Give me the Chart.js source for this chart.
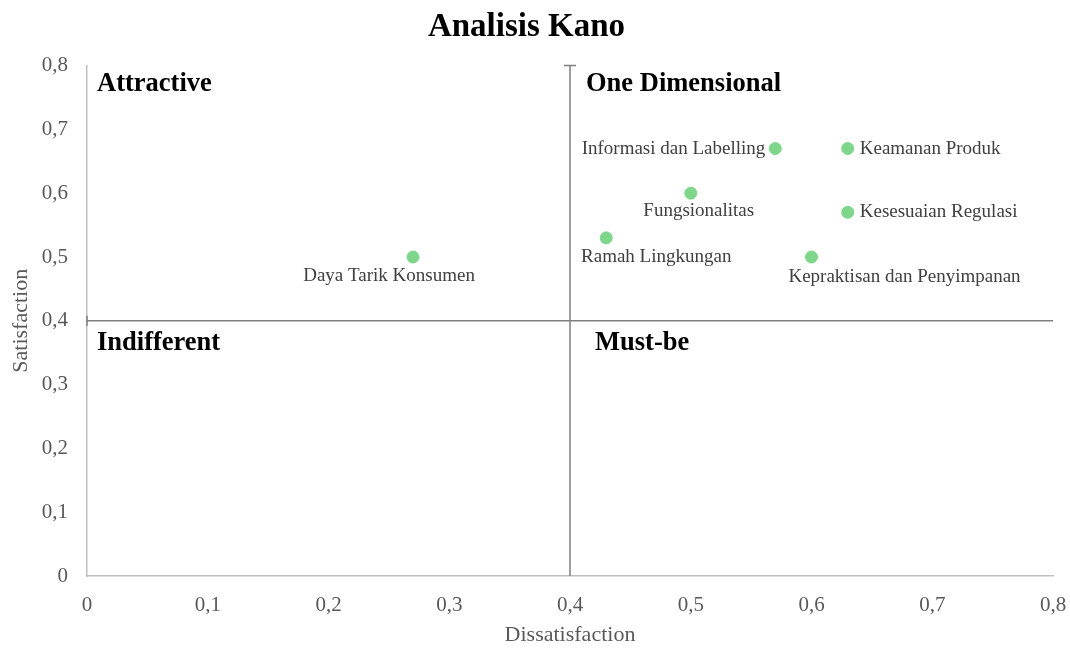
<!DOCTYPE html>
<html>
<head>
<meta charset="utf-8">
<script src="https://cdn.jsdelivr.net/npm/chart.js@4"></script>
<style>
    html, body { margin: 0; padding: 0; background: #ffffff; }
    #wrap { width: 1070px; height: 648px; }
</style>
</head>
<body>
<div id="wrap"><canvas id="kanoChart" width="1070" height="648"></canvas></div>
<script>
// atribut dan nilai koefisien kepuasan / ketidakpuasan
const atribut = [
    'Daya Tarik Konsumen',
    'Informasi dan Labelling',
    'Keamanan Produk',
    'Fungsionalitas',
    'Kesesuaian Regulasi',
    'Ramah Lingkungan',
    'Kepraktisan dan Penyimpanan'
];
const dissatisfaction = [0.27, 0.57, 0.63, 0.50, 0.63, 0.43, 0.60];
const satisfaction = [0.50, 0.67, 0.67, 0.60, 0.57, 0.53, 0.50];

const axisTicks = [0, 0.1, 0.2, 0.3, 0.4, 0.5, 0.6, 0.7, 0.8];
const batasKuadran = 0.4;
const kuadran = ['Attractive', 'One Dimensional', 'Indifferent', 'Must-be'];

// letak label titik: [align, dx, dy] dalam piksel dari titik
const labelPos = [
    ['center', -24, 19],
    ['right', -10, 0],
    ['left', 12, 0],
    ['center', 8, 18],
    ['left', 12, 0],
    ['center', 50, 19],
    ['center', 93, 20]
];

const fmt = v => String(Math.round(v * 10) / 10).replace('.', ',');
const serif = '"Liberation Serif", "Times New Roman", serif';
const garisKuadran = '#7f7f7f';

const labelPlugin = {
    id: 'kanoLabels',
    afterDatasetsDraw(chart) {
        const ctx = chart.ctx;
        const xs = chart.scales.x;
        const ys = chart.scales.y;
        const x0 = xs.getPixelForValue(0);
        const xm = xs.getPixelForValue(batasKuadran);
        const yTop = ys.getPixelForValue(0.8);
        const ym = ys.getPixelForValue(batasKuadran);
        ctx.save();

        // ujung garis (seperti error bar excel)
        ctx.strokeStyle = garisKuadran;
        ctx.lineWidth = 1.5;
        ctx.beginPath();
        ctx.moveTo(xm - 6, yTop);
        ctx.lineTo(xm + 6, yTop);
        ctx.moveTo(x0, ym - 5);
        ctx.lineTo(x0, ym + 5);
        ctx.stroke();

        // label kuadran
        ctx.font = 'bold 26.5px ' + serif;
        ctx.fillStyle = '#000000';
        ctx.textAlign = 'left';
        ctx.textBaseline = 'middle';
        ctx.fillText(kuadran[0], x0 + 10, yTop + 19);
        ctx.fillText(kuadran[1], xm + 16, yTop + 19);
        ctx.fillText(kuadran[2], x0 + 10, ym + 22);
        ctx.fillText(kuadran[3], xm + 25, ym + 22);

        // label titik
        ctx.font = '19px ' + serif;
        ctx.fillStyle = '#404040';
        const meta = chart.getDatasetMeta(0);
        meta.data.forEach((pt, i) => {
            const p = labelPos[i];
            ctx.textAlign = p[0];
            ctx.fillText(atribut[i], pt.x + p[1], pt.y + p[2]);
        });
        ctx.restore();
    }
};

new Chart(document.getElementById('kanoChart').getContext('2d'), {
    type: 'scatter',
    data: {
        datasets: [{
            label: 'Atribut',
            data: atribut.map((a, i) => ({ x: dissatisfaction[i], y: satisfaction[i] })),
            backgroundColor: '#7dd68a',
            borderColor: '#7dd68a',
            pointRadius: 6,
            pointHoverRadius: 6
        }, {
            type: 'line',
            label: 'batas x',
            data: [{ x: batasKuadran, y: 0 }, { x: batasKuadran, y: 0.8 }],
            borderColor: garisKuadran,
            borderWidth: 1.5,
            pointRadius: 0,
            fill: false
        }, {
            type: 'line',
            label: 'batas y',
            data: [{ x: 0, y: batasKuadran }, { x: 0.8, y: batasKuadran }],
            borderColor: garisKuadran,
            borderWidth: 1.5,
            pointRadius: 0,
            fill: false
        }]
    },
    options: {
        responsive: false,
        animation: false,
        layout: { padding: { left: 0, right: 17, top: 0, bottom: 0 } },
        plugins: {
            legend: { display: false },
            tooltip: { enabled: false },
            title: {
                display: true,
                text: 'Analisis Kano',
                color: '#000000',
                font: { family: serif, size: 33, weight: 'bold' },
                padding: { top: 8, bottom: 18 }
            }
        },
        scales: {
            x: {
                type: 'linear',
                min: 0,
                max: 0.8,
                afterBuildTicks: axis => { axis.ticks = axisTicks.map(v => ({ value: v })); },
                afterFit: axis => { axis.height = 72; axis.paddingRight = 0; },
                grid: { display: false },
                border: { display: true, color: '#bfbfbf', width: 1.5 },
                ticks: {
                    color: '#595959',
                    font: { family: serif, size: 21 },
                    padding: 9,
                    maxRotation: 0,
                    callback: v => fmt(v)
                },
                title: {
                    display: true,
                    text: 'Dissatisfaction',
                    color: '#595959',
                    font: { family: serif, size: 22 },
                    padding: 0
                }
            },
            y: {
                type: 'linear',
                min: 0,
                max: 0.8,
                afterBuildTicks: axis => { axis.ticks = axisTicks.map(v => ({ value: v })); },
                afterFit: axis => { axis.width = 87; },
                grid: { display: false },
                border: { display: true, color: '#bfbfbf', width: 1.5 },
                ticks: {
                    color: '#595959',
                    font: { family: serif, size: 21 },
                    padding: 11,
                    callback: v => fmt(v)
                },
                title: {
                    display: true,
                    text: 'Satisfaction',
                    color: '#595959',
                    font: { family: serif, size: 22 },
                    padding: { top: 8, bottom: 0 }
                }
            }
        }
    },
    plugins: [labelPlugin]
});
</script>
</body>
</html>
